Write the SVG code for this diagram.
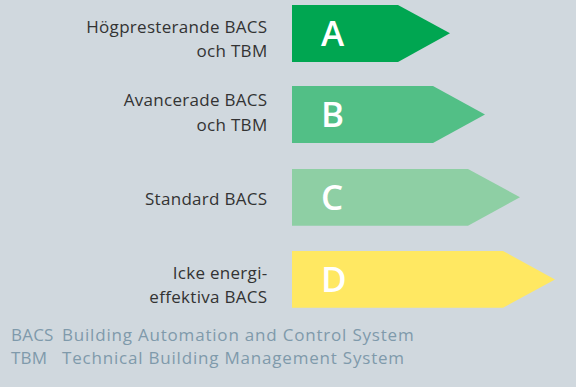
<svg xmlns="http://www.w3.org/2000/svg" width="576" height="387" viewBox="0 0 576 387">
<style>
.lbl{font-family:"Open Sans","Liberation Sans",sans-serif;font-size:17px;letter-spacing:0.3px;fill:#333333;text-anchor:end}
.ltr{font-family:"Open Sans","Liberation Sans",sans-serif;font-size:35px;font-weight:600;fill:#ffffff}
.ft{font-family:"Open Sans","Liberation Sans",sans-serif;font-size:17px;letter-spacing:0.8px;fill:#7f9aab}
.ab{font-family:"Open Sans","Liberation Sans",sans-serif;font-size:17px;letter-spacing:0.2px;fill:#7f9aab}
</style>
<rect width="576" height="387" fill="#d0d8de"/>
<g id="A">
<polygon points="292,5 398,5 450,33.3 398,62 292,62" fill="#00a651"/>
<text class="ltr" x="321" y="45.8">A</text>
<text class="lbl" x="267.5" y="33">Högpresterande BACS</text>
<text class="lbl" x="267.5" y="57">och TBM</text>
</g>
<g id="B">
<polygon points="292,86 433,86 485,114.5 433,143 292,143" fill="#52bf86"/>
<text class="ltr" x="321" y="127">B</text>
<text class="lbl" x="267.5" y="106">Avancerade BACS</text>
<text class="lbl" x="267.5" y="130.5">och TBM</text>
</g>
<g id="C">
<polygon points="292,169 468,169 520,197.3 468,225.7 292,225.7" fill="#8ecfa4"/>
<text class="ltr" x="321" y="210">C</text>
<text class="lbl" x="267.5" y="205">Standard BACS</text>
</g>
<g id="D">
<polygon points="292,251 503,251 555,279.5 503,307.7 292,307.7" fill="#ffe862"/>
<text class="ltr" x="321" y="292">D</text>
<text class="lbl" x="267.5" y="279">Icke energi-</text>
<text class="lbl" x="267.5" y="302.7">effektiva BACS</text>
</g>
<g id="legend">
<text class="ab" x="11" y="340.7">BACS</text>
<text class="ft" x="62" y="340.7">Building Automation and Control System</text>
<text class="ab" x="11" y="364">TBM</text>
<text class="ft" x="62" y="364">Technical Building Management System</text>
</g>
<g id="connectors"/>
</svg>
